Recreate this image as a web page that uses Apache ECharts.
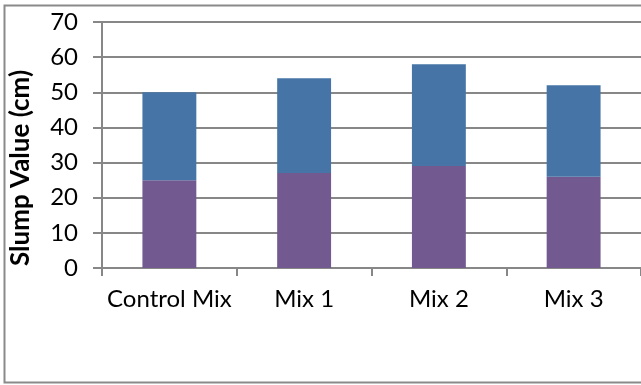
<!DOCTYPE html>
<html>
<head>
<meta charset="utf-8">
<script src="https://cdn.jsdelivr.net/npm/echarts@6/dist/echarts.min.js"></script>
<style>
  html, body { margin: 0; padding: 0; background: #fff; }
  #chart { width: 641px; height: 385px; }
</style>
</head>
<body>
<div id="chart"></div>
<script>
// data
var categories = ['Control Mix', 'Mix 1', 'Mix 2', 'Mix 3'];
var lowerPart = [25, 27, 29, 26];   // purple
var upperPart = [25, 27, 29, 26];   // blue, stacked on top
var yTicks = { min: 0, max: 70, interval: 10 };
var yTitle = 'Slump Value (cm)';

var font = 'Lato, "Open Sans", sans-serif';

var chart = echarts.init(document.getElementById('chart'));
chart.setOption({
    animation: false,
    graphic: [
        {
            type: 'rect',
            shape: { x: 4.5, y: 5.5, width: 700, height: 377 },
            style: { fill: 'none', stroke: '#8a8a8a', lineWidth: 2 },
            silent: true
        },
        {
            // rotated axis title, sits a bit lower than the plot middle
            type: 'text',
            x: 21,
            y: 168,
            rotation: Math.PI / 2,
            style: {
                text: yTitle,
                fill: '#000',
                font: 'bold 26px ' + font,
                align: 'center',
                verticalAlign: 'middle'
            },
            silent: true
        }
    ],
    grid: {
        left: 102,
        top: 22,
        width: 544,
        height: 246
    },
    xAxis: {
        type: 'category',
        data: categories,
        axisLine: { lineStyle: { color: '#878787', width: 2 } },
        axisTick: { show: true, interval: 0, length: 8, lineStyle: { color: '#878787', width: 2 } },
        axisLabel: { interval: 0, color: '#000', fontFamily: font, fontSize: 24, margin: 19 }
    },
    yAxis: {
        type: 'value',
        min: yTicks.min,
        max: yTicks.max,
        interval: yTicks.interval,
        axisLine: { show: true, lineStyle: { color: '#878787', width: 2 } },
        axisTick: { show: true, length: 9, lineStyle: { color: '#878787', width: 2 } },
        axisLabel: { color: '#000', fontFamily: font, fontSize: 24, margin: 24 },
        splitLine: { lineStyle: { color: '#878787', width: 2 } }
    },
    series: [
        {
            name: 'lower',
            type: 'bar',
            stack: 'total',
            barWidth: '40%',
            data: lowerPart,
            itemStyle: { color: '#72598f' }
        },
        {
            name: 'upper',
            type: 'bar',
            stack: 'total',
            barWidth: '40%',
            data: upperPart,
            itemStyle: { color: '#4674a6' }
        }
    ]
});
</script>
</body>
</html>
